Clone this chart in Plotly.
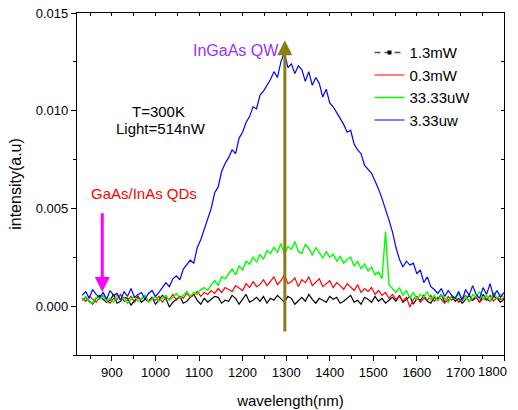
import plotly.graph_objects as go

# wavelength grid (nm)
wavelength = [832, 840, 848, 856, 864, 872, 880, 888, 896, 904, 912, 920, 928, 936, 944, 952, 960, 968, 976, 984,
              992, 1000, 1008, 1016, 1024, 1032, 1040, 1048, 1056, 1064, 1072, 1080, 1088, 1096, 1104, 1112, 1120,
              1128, 1136, 1144, 1152, 1160, 1168, 1176, 1184, 1192, 1200, 1208, 1216, 1224, 1232, 1240, 1248, 1256,
              1264, 1272, 1280, 1288, 1296, 1304, 1312, 1320, 1328, 1336, 1344, 1352, 1360, 1368, 1376, 1384, 1392,
              1400, 1408, 1416, 1424, 1432, 1440, 1448, 1456, 1464, 1472, 1480, 1488, 1496, 1504, 1512, 1520, 1528,
              1536, 1544, 1552, 1560, 1568, 1576, 1584, 1592, 1600, 1608, 1616, 1624, 1632, 1640, 1648, 1656, 1664,
              1672, 1680, 1688, 1696, 1704, 1712, 1720, 1728, 1736, 1744, 1752, 1760, 1768, 1776, 1784, 1792, 1800]

# intensities in units of 1e-5 a.u.
black_1p3mW = [30, 45, 25, 10, 40, 55, 35, 20, 30, 60, 15, 25, 45, 40, 5, 30, 50, 20, 35, 25,
               45, 10, 30, 55, 40, -5, 20, 35, 50, 15, 25, 45, 60, 30, 10, 40, 20,
               35, 50, 45, 15, 30, 25, 55, 40, 10, 35, 60, 20, 30, 45, 25, 50, 15, 40,
               30, 55, 35, 20, 50, 40, 10, 30, 45, 25, 60, 35, 15, 40, 30, 20, 50,
               35, 45, 15, 25, 40, 55, 20, 30, 10, 45, 35, 20, 50, 25, 40, 15, 30,
               45, 25, 55, 20, 35, 50, 10, 40, 30, 55, 25, 15, 45, 35, 60, 20, 30,
               50, 25, 40, 15, 35, 55, 30, 45, 20, 60, 35, 25, 50, 40, 20, 35]

red_0p3mW = [40, 25, 50, 35, 20, 45, 55, 30, 15, 40, 35, 60, 25, 30, 50, 20, 45, 35, 55, 25,
             40, 30, 50, 20, 45, 35, 60, 30, 50, 40, 65, 45, 55, 75, 50, 70, 60,
             80, 65, 90, 70, 95, 85, 75, 105, 90, 80, 115, 95, 125, 100, 110, 135, 105, 125,
             150, 110, 130, 160, 115, 125, 145, 100, 135, 120, 150, 105, 125, 140, 100, 115, 130,
             95, 120, 105, 85, 115, 95, 80, 110, 70, 90, 75, 95, 60, 80, 55, 70, 40,
             60, 35, 50, 25, 45, -5, 35, 50, 20, 40, 30, 55, 25, 45, 35, 15, 50,
             30, 45, 20, 40, 55, 25, 35, 50, 20, 40, 30, 55, 25, 45, 35, 40]

green_33uW = [30, 50, 20, 15, 45, 35, 55, 25, 40, 20, 60, 30, 45, 15, 35, 50, 25, 40, 55, 20,
              35, 50, 25, 40, 55, 30, 45, 65, 40, 55, 75, 50, 70, 60, 85, 95, 80,
              110, 130, 105, 150, 140, 165, 190, 160, 205, 185, 230, 215, 250, 225, 265, 240, 285, 270,
              300, 275, 320, 265, 305, 290, 330, 280, 270, 315, 295, 260, 300, 275, 245, 280, 250,
              265, 230, 255, 220, 240, 250, 205, 230, 190, 215, 180, 200, 160, 175, 140, 380, 110,
              90, 70, 95, 55, 80, 40, 70, 35, 60, 45, 75, 30, 55, 25, 60, 40, 20,
              55, 35, 65, 30, 50, 20, 60, 45, 75, 35, 55, 25, 70, 40, 60, 45]

blue_3p33uW = [55, 75, 40, 85, 60, 45, 70, 35, 80, 55, 65, 30, 75, 50, 90, 45, 60, 70, 35, 65,
               80, 50, 70, 95, 120, 100, 140, 155, 135, 190, 210, 235, 220, 300, 340, 390, 450,
               500, 580, 610, 690, 730, 760, 800, 780, 860, 890, 940, 970, 1020, 1010, 1080, 1100, 1130, 1160,
               1200, 1170, 1250, 1300, 1220, 1240, 1190, 1230, 1210, 1150, 1200, 1130, 1170, 1140, 1070, 1110, 1040,
               1020, 990, 960, 930, 890, 900, 830, 800, 780, 720, 700, 680, 640, 600, 550, 500, 440,
               380, 300, 240, 200, 230, 210, 220, 165, 185, 120, 150, 100, 85, 65, 90, 50, 80,
               55, 40, 75, 30, 85, 55, 105, 60, 40, 95, 60, 115, 50, 80, 45, 70]

scale = 1e-5
x_ticks = [900, 1000, 1100, 1200, 1300, 1400, 1500, 1600, 1700, 1800]
x_tick_labels = ["900", "1000", "1100", "1200", "1300", "1400", "1500", "1600", "1700", "1800"]
y_ticks = [0.000, 0.005, 0.010, 0.015]

FONT = "Liberation Sans, Arial, sans-serif"

fig = go.Figure()

# legend-only entry mimicking the Origin line+symbol legend for 1.3mW
fig.add_trace(go.Scatter(x=[None], y=[None], mode="lines+markers", name="1.3mW",
                         line=dict(color="#555555", width=1.5, dash="6px,4px"),
                         marker=dict(symbol="square", color="black", size=4)))

series = [
    ("1.3mW", black_1p3mW, "#000000", 1.2, False),
    ("0.3mW", red_0p3mW, "#ff0000", 1.2, True),
    ("33.33uW", green_33uW, "#00ff00", 1.4, True),
    ("3.33uw", blue_3p33uW, "#0000ff", 1.2, True),
]
for name, vals, color, w, show in series:
    fig.add_trace(go.Scatter(x=wavelength, y=[v * scale for v in vals], mode="lines", name=name,
                             line=dict(color=color, width=w), showlegend=show))

xr = [820, 1800]
yr = [-0.0025, 0.015]

# the last x label is drawn separately (right-aligned) so it stays inside the frame, as in the original
axis_labels = x_tick_labels[:-1] + [""]

fig.update_layout(
    width=518, height=410,
    margin=dict(l=77, r=14, t=13, b=55, autoexpand=False),
    paper_bgcolor="white", plot_bgcolor="white",
    font=dict(family=FONT, size=13, color="black"),
    showlegend=True,
    legend=dict(x=0.685, y=0.932, xanchor="left", yanchor="top", bgcolor="rgba(0,0,0,0)",
                font=dict(size=15, family=FONT), tracegroupgap=0, itemwidth=30),
    xaxis=dict(range=xr, tickvals=x_ticks, ticktext=axis_labels, showline=True, mirror=True,
               linecolor="black", linewidth=1.2,
               ticks="outside", ticklen=5, tickwidth=1, tickcolor="black", showgrid=False, zeroline=False,
               automargin=False, ticklabeloverflow="allow",
               minor=dict(dtick=50, tick0=800, ticks="outside", ticklen=3, tickcolor="black"),
               title=dict(text="wavelength(nm)", font=dict(size=15), standoff=16)),
    yaxis=dict(range=yr, tickvals=y_ticks, tickformat=".3f", showline=True, mirror=True, linecolor="black",
               linewidth=1.2, ticks="outside", ticklen=5, tickwidth=1, tickcolor="black",
               showgrid=False, zeroline=False, automargin=False, ticklabeloverflow="allow",
               minor=dict(dtick=0.0025, tick0=0, ticks="outside", ticklen=3, tickcolor="black"),
               title=dict(text="intensity(a.u)", font=dict(size=16), standoff=10)),
    xaxis2=dict(range=xr, overlaying="x", side="top", anchor="y", showline=True, linecolor="black",
                linewidth=1.2, ticks="inside", ticklen=3, tickcolor="black", dtick=50, tick0=800,
                showticklabels=False, showgrid=False, zeroline=False, automargin=False),
    yaxis2=dict(range=yr, overlaying="y", side="right", anchor="x", showline=True, linecolor="black",
                linewidth=1.2, ticks="inside", ticklen=3, tickcolor="black", dtick=0.0025, tick0=0,
                showticklabels=False, showgrid=False, zeroline=False, automargin=False),
)

# invisible trace so the overlay axes are drawn
fig.add_trace(go.Scatter(x=[None], y=[None], xaxis="x2", yaxis="y2", showlegend=False, hoverinfo="skip"))

# last x tick label
fig.add_annotation(x=x_ticks[-1], y=0, xref="x", yref="paper", text=x_tick_labels[-1], showarrow=False,
                   xanchor="right", yanchor="top", xshift=5, yshift=-7,
                   font=dict(size=13, color="black", family=FONT))

# arrows
fig.add_annotation(x=1297, y=0.0136, ax=1297, ay=-0.00138, xref="x", yref="y", axref="x", ayref="y",
                   text="", showarrow=True, arrowhead=2, arrowsize=1.0, arrowwidth=3, arrowcolor="#8a7d12")
fig.add_annotation(x=878, y=0.00073, ax=878, ay=0.00483, xref="x", yref="y", axref="x", ayref="y",
                   text="", showarrow=True, arrowhead=2, arrowsize=1.0, arrowwidth=3, arrowcolor="#ff00ff")

# text labels
fig.add_annotation(x=1186, y=0.0131, xref="x", yref="y", text="InGaAs QW", showarrow=False,
                   font=dict(size=16, color="#9b30ff", family=FONT))
fig.add_annotation(x=1006, y=0.00998, xref="x", yref="y", text="T=300K", showarrow=False,
                   font=dict(size=15, color="black", family=FONT))
fig.add_annotation(x=1013, y=0.00911, xref="x", yref="y", text="Light=514nW", showarrow=False,
                   font=dict(size=15, color="black", family=FONT))
fig.add_annotation(x=974, y=0.00578, xref="x", yref="y", text="GaAs/InAs QDs", showarrow=False,
                   font=dict(size=15, color="#ff0000", family=FONT))

# remove the default 8px page margin so the figure fills the 518x410 window exactly
fig.write_html("out.html", post_script="document.body.style.margin='0px';",
               config={"displayModeBar": False})
